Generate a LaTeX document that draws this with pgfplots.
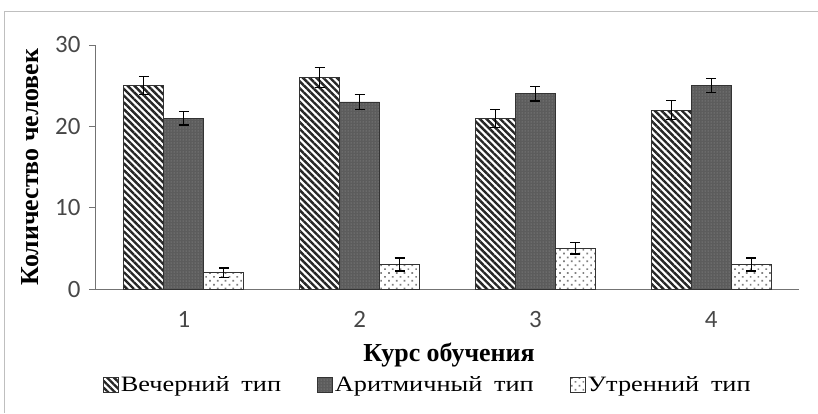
\documentclass[border=0pt]{standalone}
\usepackage{pgfplots}
\pgfplotsset{compat=1.18}
\usepackage{pgfplotstable}
\usepackage{graphicx}
\usepackage{fontspec}
\setmainfont{Liberation Serif}
\newfontfamily\tickfont{Carlito}
\usetikzlibrary{patterns,patterns.meta}

\pgfplotstableread{
x a ea b eb c ec
1 25 1.1 21 0.85 2 0.6
2 26 1.2 23 0.9 3 0.8
3 21 1.1 24 0.9 5 0.7
4 22 1.2 25 0.85 3 0.8
}\data

\pgfplotsset{
  hatchbar/.style={draw=black!80, line width=0.8bp, fill=white,
    postaction={pattern={Lines[angle=-45,distance=4.8bp,line width=2.4bp]}, pattern color=black!85}},
  darkbar/.style={draw=black!80, line width=0.8bp, fill=black!64,
    postaction={pattern={Dots[distance=3bp,radius=0.5bp]}, pattern color=black!38}},
  lightbar/.style={draw=black!80, line width=0.8bp, fill=white,
    postaction={pattern={Dots[distance=5.5bp,radius=1.2bp,angle=45]}, pattern color=black!50}},
}
\newcommand{\legtxt}[1]{\scalebox{1.2}[1]{#1}}

\begin{document}
\begin{tikzpicture}[x=1bp,y=1bp]
\useasboundingbox (-96,-124) rectangle (722,289);
\draw[black!25, line width=1bp] (-91,278) -- (722,278);
\draw[black!25, line width=1bp] (-91,278) -- (-91,-124);
\begin{axis}[at={(0,0)}, anchor=south west, scale only axis,
  width=703bp, height=244bp,
  xmin=0.5, xmax=4.5, ymin=0, ymax=30,
  axis lines=left,
  axis line style={black!55, line width=1bp, -},
  xtick={1,2,3,4}, ytick={0,10,20,30},
  tick align=outside, major tick length=7bp,
  x tick style={draw=none},
  y tick style={black!55, line width=1bp},
  ticklabel style={font=\tickfont\fontsize{25}{27}\selectfont, text=black!72},
  xticklabel style={yshift=-12bp},
  yticklabel style={xshift=-5bp},
  /pgf/number format/assume math mode=true,
  ybar=0pt, bar width=40bp,
  xlabel={\textbf{Курс обучения}},
  ylabel={\textbf{Количество человек}},
  label style={font=\fontsize{26}{28}\selectfont},
  xlabel style={at={(axis description cs:0.502,-0.27)}, anchor=center},
  ylabel style={at={(axis description cs:-0.094,0.5)}, anchor=center, rotate=0},
  error bars/error bar style={black, line width=1bp},
  error bars/error mark options={black, rotate=90, mark size=5bp, line width=1.3bp},
  legend style={draw=none, fill=none, at={(axis description cs:0.472,-0.393)}, anchor=center,
    font=\fontsize{22}{24}\selectfont, legend columns=3,
    /tikz/every even column/.append style={column sep=34bp},
    /tikz/every odd column/.append style={column sep=0bp}},
  legend image code/.code={\draw[#1] (0bp,-7.5bp) rectangle (15bp,7.5bp);},
]
\addplot[hatchbar, error bars/.cd, y dir=both, y explicit] table[x=x, y=a, y error=ea]{\data};
\addplot[darkbar, error bars/.cd, y dir=both, y explicit] table[x=x, y=b, y error=eb]{\data};
\addplot[lightbar, error bars/.cd, y dir=both, y explicit] table[x=x, y=c, y error=ec]{\data};
\legend{\legtxt{Вечерний\hspace{0.45em}тип}, \legtxt{Аритмичный\hspace{0.45em}тип}, \legtxt{Утренний\hspace{0.45em}тип}}
\end{axis}
\end{tikzpicture}
\end{document}
